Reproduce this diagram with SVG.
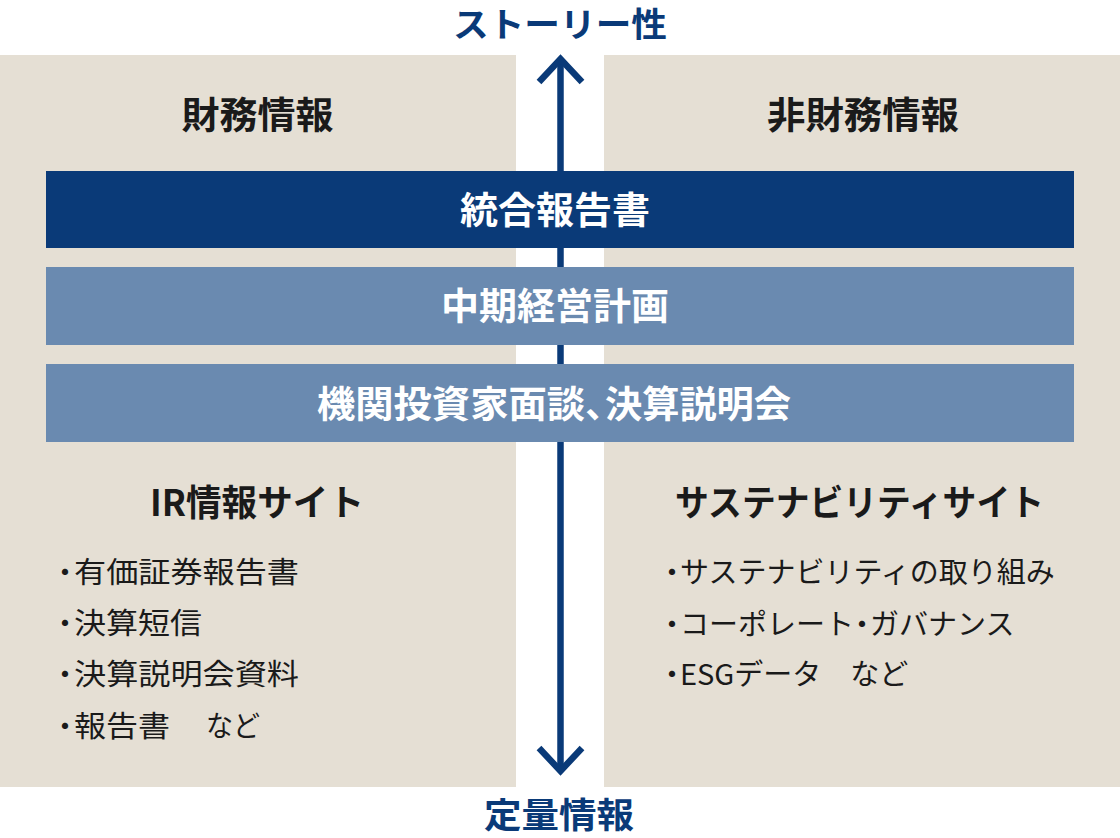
<svg xmlns="http://www.w3.org/2000/svg" width="1120" height="838" viewBox="0 0 1120 838">
<style>
text{font-family:"Noto Sans CJK JP","Noto Sans",sans-serif;}
.ttl{font-size:34px;font-weight:700;fill:#0a3a78;text-anchor:middle;}
.hd{font-size:37px;font-weight:700;fill:#1a1a1a;text-anchor:middle;}
.sub{font-size:36px;font-weight:700;fill:#1a1a1a;text-anchor:middle;}
.bar{font-size:37px;font-weight:700;fill:#ffffff;text-anchor:middle;}
.bars{font-size:37px;font-weight:700;fill:#ffffff;}
.li{font-size:29px;font-weight:400;fill:#1a1a1a;}
.dot{font-size:32px;font-weight:700;fill:#1a1a1a;}
.panel{fill:#e5dfd4;}
.arr{fill:none;stroke:#0a3a78;stroke-width:6.5;}
</style>
<rect width="1120" height="838" fill="#ffffff"/>
<g id="panel-left"><rect class="panel" x="0" y="55" width="516" height="732"/></g>
<g id="panel-right"><rect class="panel" x="604" y="55" width="516" height="732"/></g>
<g id="connectors">
<line class="arr" x1="560.5" y1="60" x2="560.5" y2="770"/>
<polyline class="arr" points="539,82 560.5,59 582,82"/>
<polyline class="arr" points="539,748 560.5,771 582,748"/>
</g>
<g id="title-top"><text class="ttl" x="560" y="37" textLength="214" lengthAdjust="spacingAndGlyphs">ストーリー性</text></g>
<g id="title-bottom"><text class="ttl" style="font-size:35px" x="559" y="828" textLength="150" lengthAdjust="spacingAndGlyphs">定量情報</text></g>
<g id="head-financial"><text class="hd" x="257.5" y="129" textLength="152" lengthAdjust="spacingAndGlyphs">財務情報</text></g>
<g id="head-nonfinancial"><text class="hd" x="863" y="129" textLength="192" lengthAdjust="spacingAndGlyphs">非財務情報</text></g>
<g id="bar-integrated"><rect x="46" y="171" width="1028" height="77" fill="#0a3a78"/><text class="bar" x="555" y="224" textLength="190" lengthAdjust="spacingAndGlyphs">統合報告書</text></g>
<g id="bar-plan"><rect x="46" y="267" width="1028" height="78" fill="#6a8ab0"/><text class="bar" x="555" y="320" textLength="228" lengthAdjust="spacingAndGlyphs">中期経営計画</text></g>
<g id="bar-meeting"><rect x="46" y="364" width="1028" height="78" fill="#6a8ab0"/>
<text class="bars" x="317" y="418" textLength="268" lengthAdjust="spacingAndGlyphs">機関投資家面談</text><text class="bars" x="586" y="418">､</text><text class="bars" x="605" y="418" textLength="186" lengthAdjust="spacingAndGlyphs">決算説明会</text></g>
<g id="ir-site">
<text class="sub" x="257" y="516" textLength="214" lengthAdjust="spacingAndGlyphs">IR情報サイト</text>
<text class="dot" x="57" y="584">･</text><text class="li" x="74" y="583" textLength="225" lengthAdjust="spacingAndGlyphs">有価証券報告書</text>
<text class="dot" x="57" y="635">･</text><text class="li" x="74" y="634" textLength="128" lengthAdjust="spacingAndGlyphs">決算短信</text>
<text class="dot" x="57" y="686">･</text><text class="li" x="74" y="685" textLength="225" lengthAdjust="spacingAndGlyphs">決算説明会資料</text>
<text class="dot" x="57" y="738">･</text><text class="li" x="74" y="737" textLength="96" lengthAdjust="spacingAndGlyphs">報告書</text><text class="li" x="206" y="737" textLength="54" lengthAdjust="spacingAndGlyphs">など</text>
</g>
<g id="sustainability-site">
<text class="sub" x="859.5" y="516" textLength="369" lengthAdjust="spacingAndGlyphs">サステナビリティサイト</text>
<text class="dot" x="664" y="584">･</text><text class="li" x="680" y="583">サステナビリティの取り組み</text>
<text class="dot" x="664" y="636">･</text><text class="li" x="680" y="635">コーポレート</text><text class="dot" x="854" y="636">･</text><text class="li" x="870" y="635">ガバナンス</text>
<text class="dot" x="664" y="686">･</text><text class="li" x="680" y="685">ESGデータ　など</text>
</g>
</svg>
